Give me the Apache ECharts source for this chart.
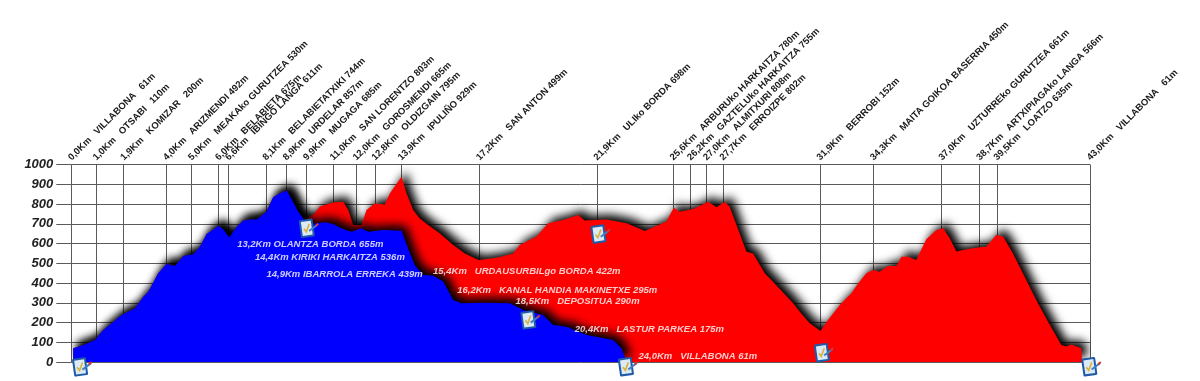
<!DOCTYPE html>
<html><head><meta charset="utf-8">
<style>html,body{margin:0;padding:0;background:#fff}#c{width:1200px;height:381px}</style>
<script src="https://cdn.jsdelivr.net/npm/echarts@6/dist/echarts.min.js"></script>
</head><body><div id="c"></div>
<script>
const yTicks = [0,100,200,300,400,500,600,700,800,900,1000];
const tickKm = [0,1.04,2.21,4.01,5.07,6.21,6.63,8.21,9.06,9.92,11.05,12.02,12.81,13.92,17.22,22.18,25.40,26.13,26.80,27.50,31.60,33.85,36.74,38.34,39.07,43];
const tickLabels = [
"0,0Km   VILLABONA   61m","1,0Km   OTSABI   110m","1,9Km   KOMIZAR   200m","4,0Km   ARIZMENDI 492m",
"5,0Km   MEAKAko GURUTZEA 530m","6,0Km   BELABIETA 675m","6,6Km   IBINGO LANGA 611m","8,1Km   BELABIETATXIKI 744m",
"8,9Km   URDELAR 857m","9,9Km   MUGAGA 685m","11,0Km   SAN LORENTZO 803m","12,0Km   GOROSMENDI 665m",
"12,8Km   OLDIZGAIN 795m","13,9Km   IPULIÑO 929m","17,2Km   SAN ANTON 499m","21,9Km   ULIko BORDA 698m",
"25,6Km   ARBURUko HARKAITZA 780m","26,2Km   GAZTELUko HARKAITZA 755m","27,0Km   ALMITXURI 808m","27,7Km   ERROIZPE 802m",
"31,9Km   BERROBI 152m","34,3Km   MAITA GOIKOA BASERRIA 450m","37,0Km   UZTURREko GURUTZEA 661m","38,7Km   ARTXIPIAGAko LANGA 566m",
"39,5Km   LOATZO 635m","43,0Km   VILLABONA   61m"];
const outwardKm = [0.08,0.08,0.51,1.00,1.35,1.70,2.12,2.69,3.04,3.25,3.67,4.02,4.37,4.73,5.15,5.43,5.71,5.92,6.20,6.41,6.67,6.98,7.26,7.54,7.82,8.24,8.52,8.80,9.09,9.30,9.58,9.82];
const outwardElev = [0,69,86,111,162,196,238,272,331,356,449,496,486,537,545,584,648,665,690,672,631,685,716,722,722,761,834,854,868,824,761,722];
const redRestKm = [10.28,10.49,11.05,11.48,11.69,11.90,12.25,12.46,12.81,13.23,13.45,13.94,14.15,14.43,14.71,15.06,15.56,16.12,16.61,17.18,17.95,18.65,18.93,19.64,20.13,20.76,21.39,21.67,22.59,23.44,24.21,25.12,25.43,25.68,26.25,26.88,27.24,27.58,27.79,28.50,28.78,29.27,29.69,30.47,30.75,31.17,31.62,31.94,32.50,32.93,33.21,33.56,33.84,34.12,34.47,34.83,35.04,35.32,35.67,36.09,36.52,36.80,37.08,37.36,37.85,38.34,38.62,39.04,39.33,39.75,40.31,40.80,41.23,41.79,42.00,42.21,42.63,42.67];
const redRestElev = [753,787,808,812,770,694,694,770,803,798,854,938,854,770,727,694,651,592,550,516,528,550,592,635,702,719,744,716,722,702,663,711,781,761,775,812,783,812,786,558,550,449,398,297,255,196,157,213,297,348,398,449,466,457,486,486,533,533,516,621,668,677,626,559,572,581,584,643,635,550,415,297,204,86,78,89,69,0];
const blueRestKm = [10.07,10.35,10.70,11.05,11.48,11.83,12.25,12.53,13.16,13.94,14.22,14.50,14.85,15.28,15.70,16.12,16.47,17.38,18.51,19.07,19.91,20.34,20.90,21.75,22.87,23.22,23.44];
const blueRestElev = [694,702,707,699,672,660,677,660,668,665,574,490,440,437,407,314,297,300,297,263,238,187,179,137,111,69,0];
const noteTexts = ["13,2Km OLANTZA BORDA 655m","14,4Km KIRIKI HARKAITZA 536m","14,9Km IBARROLA ERREKA 439m","15,4Km   URDAUSURBILgo BORDA 422m","16,2Km   KANAL HANDIA MAKINETXE 295m","18,5Km   DEPOSITUA 290m","20,4Km   LASTUR PARKEA 175m","24,0Km   VILLABONA 61m"];
const noteKm = [7.00,7.75,8.24,15.27,16.29,18.75,21.25,23.94];
const noteElev = [596,532,444,457,361,305,167,27];
const iconKm = [0.37,9.94,19.29,23.41,22.25,31.68,42.97];
const iconElev = [-25,677,213,-24,648,47,-24];

const zip = (a,b)=>a.map((v,i)=>[v,b[i]]);
const red = zip(outwardKm.concat(redRestKm), outwardElev.concat(redRestElev));
const blue = zip(outwardKm.concat(blueRestKm), outwardElev.concat(blueRestElev));
const gridCol = '#5a5a5a';
const chart = echarts.init(document.getElementById('c'));
const font = 'Liberation Sans';
function area(name,color,data,z){return {name,type:'line',data,z,showSymbol:false,smooth:false,animation:false,silent:true,
  lineStyle:{width:0},areaStyle:{color,opacity:1,shadowColor:'rgba(0,0,0,1)',shadowBlur:10,shadowOffsetX:5,shadowOffsetY:-5}};}
chart.setOption({
  animation:false,backgroundColor:'#fff',
  grid:{left:71.3,right:110,top:164.5,bottom:19,containLabel:false},
  xAxis:{type:'value',position:'top',min:0,max:43,
    axisLine:{show:false},
    axisTick:{show:true,customValues:tickKm,length:5,inside:false,lineStyle:{color:gridCol,width:1}},
    axisLabel:{show:true,customValues:tickKm,rotate:45,margin:7,hideOverlap:false,color:'#1a1a1a',fontFamily:font,fontWeight:'bold',fontSize:9.5,
      padding:[0,0,4,-2],
      formatter:v=>{const i=tickKm.indexOf(v);return i<0?'':tickLabels[i];}},
    splitLine:{show:true,lineStyle:{color:gridCol,width:1}}},
  yAxis:{type:'value',min:0,max:1000,interval:100,
    axisLine:{show:false},
    axisTick:{show:true,length:15,lineStyle:{color:gridCol,width:1}},
    axisLabel:{margin:18,color:'#222',fontFamily:font,fontWeight:'bold',fontStyle:'italic',fontSize:13,
      formatter:v=>yTicks.includes(v)?String(v):''},
    splitLine:{show:true,lineStyle:{color:gridCol,width:1}}},
  series:[
    area('Itzulia','#ff0000',red,2),
    area('Lehen zatia','#0000ff',blue,3),
    {type:'scatter',name:'Oharrak',z:6,silent:true,symbolSize:0,animation:false,
      data:noteKm.map((k,i)=>({value:[k,noteElev[i]],name:noteTexts[i]})),
      label:{show:true,position:'right',distance:0,color:'#fff',fontFamily:font,fontWeight:'bold',fontStyle:'italic',fontSize:9.5,formatter:p=>p.name}},
    {type:'custom',name:'Ikonoak',z:7,silent:true,animation:false,clip:false,coordinateSystem:'cartesian2d',
      data:zip(iconKm,iconElev),
      renderItem:(params,api)=>{
        const p=api.coord([api.value(0),api.value(1)]);
        return {type:'group',x:p[0],y:p[1],rotation:0.14,children:[
          {type:'rect',shape:{x:-7,y:-9,width:14,height:18,r:1.5},style:{fill:'#1f5aa8'}},
          {type:'rect',shape:{x:-5,y:-7,width:10,height:14},style:{fill:'#dbeaf6'}},
          {type:'polyline',shape:{points:[[-3,0],[-1,3.5],[3,-4]]},style:{stroke:'#d9b23a',fill:null,lineWidth:1.6}},
          {type:'line',shape:{x1:2,y1:3,x2:11,y2:-2},style:{stroke:'#3f7fc4',lineWidth:2}},
          {type:'line',shape:{x1:9,y1:-1,x2:12,y2:-3},style:{stroke:'#cc3a3a',lineWidth:2}}
        ]};
      }}
  ]
});
</script></body></html>
